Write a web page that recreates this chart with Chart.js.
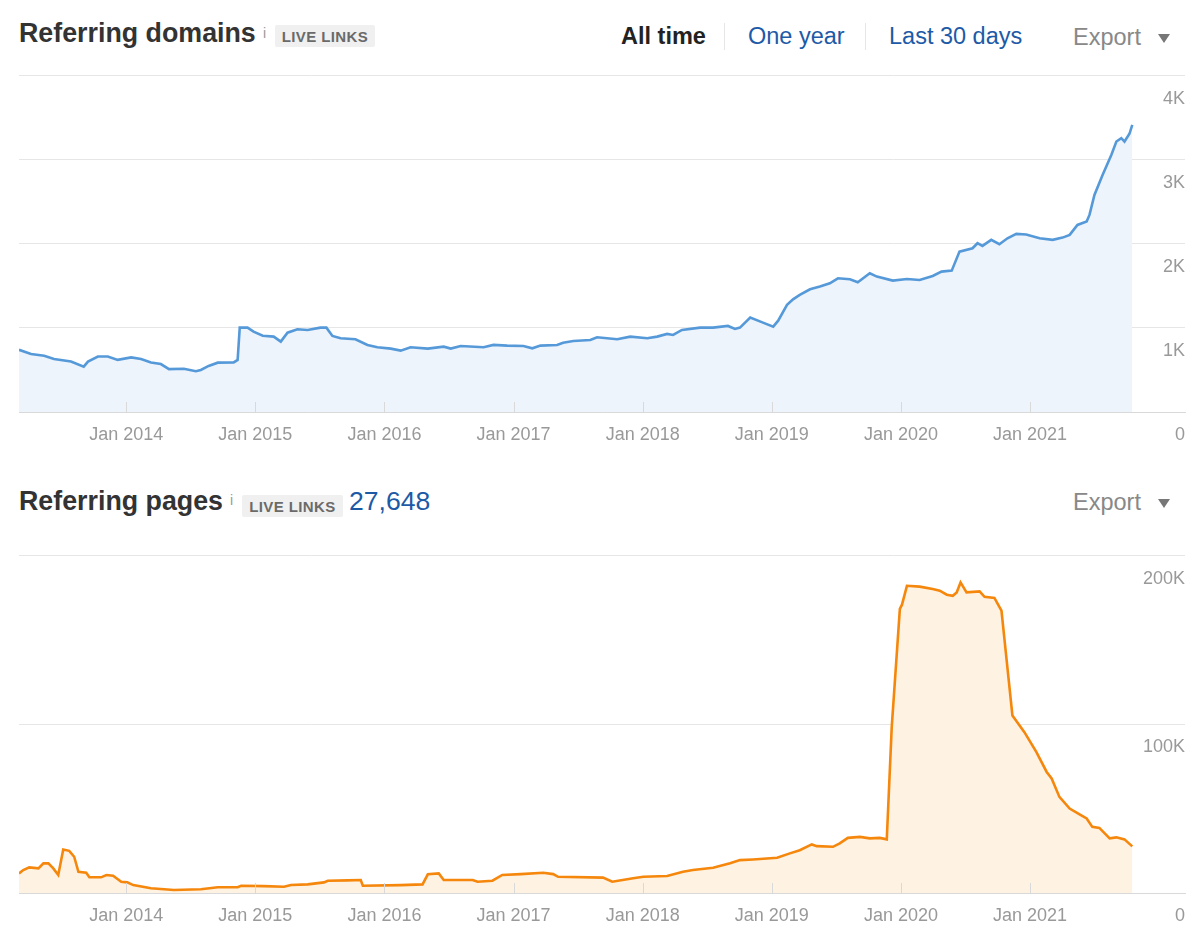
<!DOCTYPE html>
<html>
<head>
<meta charset="utf-8">
<script src="https://cdn.jsdelivr.net/npm/chart.js@4.4.1/dist/chart.umd.min.js"></script>
<style>
  html, body { margin: 0; padding: 0; background: #fff; }
  body {
    width: 1200px; height: 943px; position: relative; overflow: hidden;
    font-family: "Liberation Sans", Arial, Helvetica, sans-serif;
  }
  .abs { position: absolute; white-space: nowrap; }
  .title { font-size: 26.8px; line-height: 26.8px; font-weight: bold; color: #333; }
  .info { font-size: 14px; line-height: 14px; color: #999; }
  .badge {
    height: 22px; line-height: 23px; background: #f0f0f0; border-radius: 2px;
    font-size: 15px; font-weight: bold; color: #6a6a6a; letter-spacing: 0.4px; text-align: center;
  }
  .count { font-size: 26.6px; line-height: 26.6px; color: #1c5aa6; }
  .range { font-size: 23.5px; line-height: 23.5px; color: #1d5aa7; }
  .range.on { color: #222; font-weight: bold; }
  .sep { width: 1px; height: 27px; background: #e6e6e6; }
  .export { font-size: 23.5px; line-height: 23.5px; color: #888; }
  .caret { width: 0; height: 0; border-left: 6px solid transparent; border-right: 6px solid transparent; border-top: 9px solid #777; }
  canvas { position: absolute; left: 0; }
</style>
</head>
<body>

<!-- header: referring domains -->
<div class="abs title" style="left:19px; top:20px;">Referring domains</div>
<div class="abs info" style="left:263px; top:26px;">i</div>
<div class="abs badge" style="left:275px; top:25px; width:100px;">LIVE LINKS</div>
<div class="abs range on" style="left:621px; top:25px;">All time</div>
<div class="abs sep" style="left:724px; top:23px;"></div>
<div class="abs range" style="left:748px; top:25px;">One year</div>
<div class="abs sep" style="left:865px; top:23px;"></div>
<div class="abs range" style="left:889px; top:25px;">Last 30 days</div>
<div class="abs export" style="left:1073px; top:26px;">Export</div>
<div class="abs caret" style="left:1158px; top:34px;"></div>
<canvas id="domains" width="1200" height="385" style="top:65px;"></canvas>

<!-- header: referring pages -->
<div class="abs title" style="left:19px; top:488px;">Referring pages</div>
<div class="abs info" style="left:230px; top:493px;">i</div>
<div class="abs badge" style="left:242px; top:495px; width:101px;">LIVE LINKS</div>
<div class="abs count" style="left:349px; top:488px;">27,648</div>
<div class="abs export" style="left:1073px; top:491px;">Export</div>
<div class="abs caret" style="left:1158px; top:499px;"></div>
<canvas id="pages" width="1200" height="386" style="top:545px;"></canvas>

<script>
// ---- data ----
const domainDates = [
  '2013-03-04','2013-04-07','2013-05-14','2013-06-11','2013-07-29','2013-09-03','2013-09-15','2013-10-13',
  '2013-11-10','2013-12-08','2014-01-15','2014-02-12','2014-03-12','2014-04-09','2014-05-02','2014-06-13',
  '2014-07-17','2014-07-31','2014-08-22','2014-09-17','2014-11-01','2014-11-12','2014-11-18','2014-12-10',
  '2014-12-27','2015-01-22','2015-02-22','2015-03-14','2015-04-02','2015-04-30','2015-05-29','2015-07-04',
  '2015-07-21','2015-08-07','2015-08-30','2015-10-11','2015-11-14','2015-12-12','2016-01-19','2016-02-16',
  '2016-03-15','2016-05-03','2016-06-17','2016-07-07','2016-08-04','2016-10-08','2016-11-05','2016-12-14',
  '2017-01-29','2017-02-23','2017-03-18','2017-05-04','2017-05-21','2017-06-19','2017-08-06','2017-08-25',
  '2017-10-21','2017-11-27','2018-01-14','2018-02-11','2018-03-11','2018-03-28','2018-04-22','2018-06-12',
  '2018-07-19','2018-08-30','2018-09-19','2018-10-03','2018-11-01','2018-12-07','2019-01-05','2019-01-19',
  '2019-02-13','2019-03-02','2019-03-21','2019-04-19','2019-05-17','2019-06-14','2019-07-07','2019-08-10',
  '2019-09-01','2019-10-05','2019-10-25','2019-12-09','2020-01-18','2020-02-23','2020-03-31','2020-04-25',
  '2020-05-24','2020-06-15','2020-07-22','2020-08-05','2020-08-19','2020-09-13','2020-10-06','2020-10-29',
  '2020-11-23','2020-12-21','2021-01-28','2021-03-06','2021-04-03','2021-04-23','2021-05-15','2021-06-10',
  '2021-06-18','2021-07-02','2021-07-25','2021-08-19','2021-09-02','2021-09-16','2021-09-25','2021-10-09',
  '2021-10-17'
];
const domainValues = [
  740, 690, 670, 630, 600, 540, 600, 660,
  660, 620, 650, 630, 590, 570, 510, 515,
  485, 500, 548, 587, 590, 620, 1004, 1004,
  956, 908, 897, 837, 944, 985, 976, 1004,
  1004, 905, 877, 865, 798, 770, 754, 730,
  770, 754, 777, 754, 786, 770, 798, 790,
  786, 758, 790, 798, 825, 845, 857, 889,
  865, 897, 877, 897, 929, 917, 976, 1004,
  1004, 1024, 988, 1004, 1123, 1063, 1016, 1087,
  1274, 1341, 1393, 1460, 1492, 1532, 1591, 1580,
  1544, 1651, 1611, 1563, 1583, 1571, 1619, 1670,
  1682, 1908, 1948, 2008, 1976, 2048, 1996, 2067,
  2119, 2111, 2067, 2048, 2075, 2107, 2226, 2266,
  2345, 2583, 2821, 3060, 3218, 3258, 3218, 3310,
  3417
];

const pageDates = [
  '2013-03-04','2013-03-16','2013-04-02','2013-04-28','2013-05-12','2013-05-26','2013-06-09','2013-06-23',
  '2013-07-07','2013-07-24','2013-08-07','2013-08-19','2013-09-10','2013-09-19','2013-10-22','2013-11-06',
  '2013-11-25','2013-12-18','2014-01-04','2014-01-21','2014-03-12','2014-05-16','2014-07-31','2014-09-17',
  '2014-11-12','2014-11-22','2015-01-25','2015-03-23','2015-04-12','2015-05-29','2015-07-14','2015-07-25',
  '2015-09-19','2015-10-26','2015-11-01','2016-02-16','2016-04-18','2016-05-03','2016-06-03','2016-06-17',
  '2016-09-07','2016-09-21','2016-11-02','2016-11-30','2017-01-21','2017-03-26','2017-04-23','2017-05-07',
  '2017-09-11','2017-10-07','2017-12-05','2018-01-03','2018-03-11','2018-04-25','2018-05-23','2018-07-19',
  '2018-09-05','2018-10-03','2018-11-09','2019-01-16','2019-02-21','2019-03-21','2019-04-24','2019-05-08',
  '2019-06-23','2019-07-12','2019-08-04','2019-09-07','2019-10-05','2019-11-02','2019-11-22','2019-12-06',
  '2019-12-29','2020-01-04','2020-01-18','2020-02-23','2020-03-31','2020-04-20','2020-05-10','2020-05-27',
  '2020-06-07','2020-06-18','2020-07-05','2020-08-11','2020-08-25','2020-09-22','2020-10-12','2020-11-12',
  '2020-12-16','2021-01-19','2021-02-17','2021-03-03','2021-03-25','2021-04-23','2021-05-21','2021-06-10',
  '2021-06-26','2021-07-16','2021-08-14','2021-09-02','2021-09-25','2021-10-17'
];
const pageValues = [
  11600, 13600, 15200, 14600, 17600, 17600, 14600, 10700,
  25800, 25000, 21500, 12600, 12000, 9300, 9300, 10700,
  10300, 6700, 6300, 4700, 2800, 1800, 2200, 3400,
  3400, 4300, 4100, 3700, 4700, 5100, 6300, 7300,
  7500, 7700, 4300, 4700, 5100, 11100, 11600, 7700,
  7700, 6700, 7300, 10700, 11200, 12000, 11200, 9600,
  9100, 6700, 8700, 9600, 10100, 12600, 13600, 15000,
  17600, 19500, 19900, 20900, 23500, 25400, 28800, 27800,
  27400, 29400, 32700, 33300, 32400, 32700, 31800, 98400,
  168500, 171000, 182200, 181700, 180300, 179300, 176900, 176300,
  178300, 184200, 178300, 178900, 175700, 175000, 167500, 105300,
  95400, 83600, 71800, 67900, 57000, 50100, 46700, 44200,
  39200, 38600, 32400, 33000, 31800, 27648
];

const yearTicks = [2014, 2015, 2016, 2017, 2018, 2019, 2020, 2021];
const domainTicks = [0, 1000, 2000, 3000, 4000];
const pageTicks = [0, 100000, 200000];
const X_END = 2022.2;

const FONT = '"Liberation Sans", Arial, Helvetica, sans-serif';

function toYear(s) {
  const [y, m, d] = s.split('-').map(Number);
  const t0 = Date.UTC(y, 0, 1), t1 = Date.UTC(y + 1, 0, 1);
  return y + (Date.UTC(y, m - 1, d) - t0) / (t1 - t0);
}

// short tick marks standing inside the plot on the baseline
const innerTicks = {
  id: 'innerTicks',
  afterDatasetsDraw(chart) {
    const { ctx, chartArea, scales: { x } } = chart;
    ctx.save();
    ctx.strokeStyle = '#d9d9d9';
    ctx.lineWidth = 1;
    yearTicks.forEach((v) => {
      const px = Math.round(x.getPixelForValue(v)) + 0.5;
      ctx.beginPath();
      ctx.moveTo(px, chartArea.bottom);
      ctx.lineTo(px, chartArea.bottom - 10);
      ctx.stroke();
    });
    ctx.restore();
  },
};

function areaChart(canvasEl, dates, values, cfg) {
  const pts = dates.map((d, i) => ({ x: toYear(d), y: values[i] }));
  return new Chart(canvasEl, {
    type: 'line',
    data: {
      datasets: [{
        data: pts,
        borderColor: cfg.line,
        backgroundColor: cfg.fill,
        fill: 'origin',
        borderWidth: 2.6,
        pointRadius: 0,
        tension: 0,
      }],
    },
    options: {
      responsive: false,
      animation: false,
      events: [],
      layout: { padding: { left: 19, right: 15, top: 10, bottom: 0 } },
      plugins: { legend: { display: false }, tooltip: { enabled: false } },
      scales: {
        x: {
          type: 'linear',
          min: pts[0].x,
          max: X_END,
          afterBuildTicks: (s) => { s.ticks = yearTicks.map((v) => ({ value: v })); },
          afterFit: (s) => { s.height = 38; },
          grid: { display: false, drawTicks: false },
          border: { display: true, color: '#d9d9d9', width: 1 },
          ticks: {
            padding: 12, color: '#999', autoSkip: false, maxRotation: 0,
            font: { family: FONT, size: 18 },
            callback: (v) => 'Jan ' + v,
          },
        },
        y: {
          position: 'right',
          min: 0,
          max: cfg.max,
          afterBuildTicks: (s) => { s.ticks = cfg.ticks.map((v) => ({ value: v })); },
          afterFit: (s) => { s.width = 0; },
          grid: { color: '#e6e6e6', drawTicks: false },
          border: { display: false },
          ticks: {
            mirror: true, padding: 0, labelOffset: 23, color: '#999',
            font: { family: FONT, size: 18 },
            callback: (v) => (v === 0 ? '0' : (v / 1000) + 'K'),
          },
        },
      },
    },
    plugins: [innerTicks],
  });
}

areaChart(document.getElementById('domains'), domainDates, domainValues, {
  line: '#5599d9', fill: '#eef4fc', max: 4000, ticks: domainTicks,
});
areaChart(document.getElementById('pages'), pageDates, pageValues, {
  line: '#f5870c', fill: '#fef2e3', max: 200000, ticks: pageTicks,
});
</script>
</body>
</html>
